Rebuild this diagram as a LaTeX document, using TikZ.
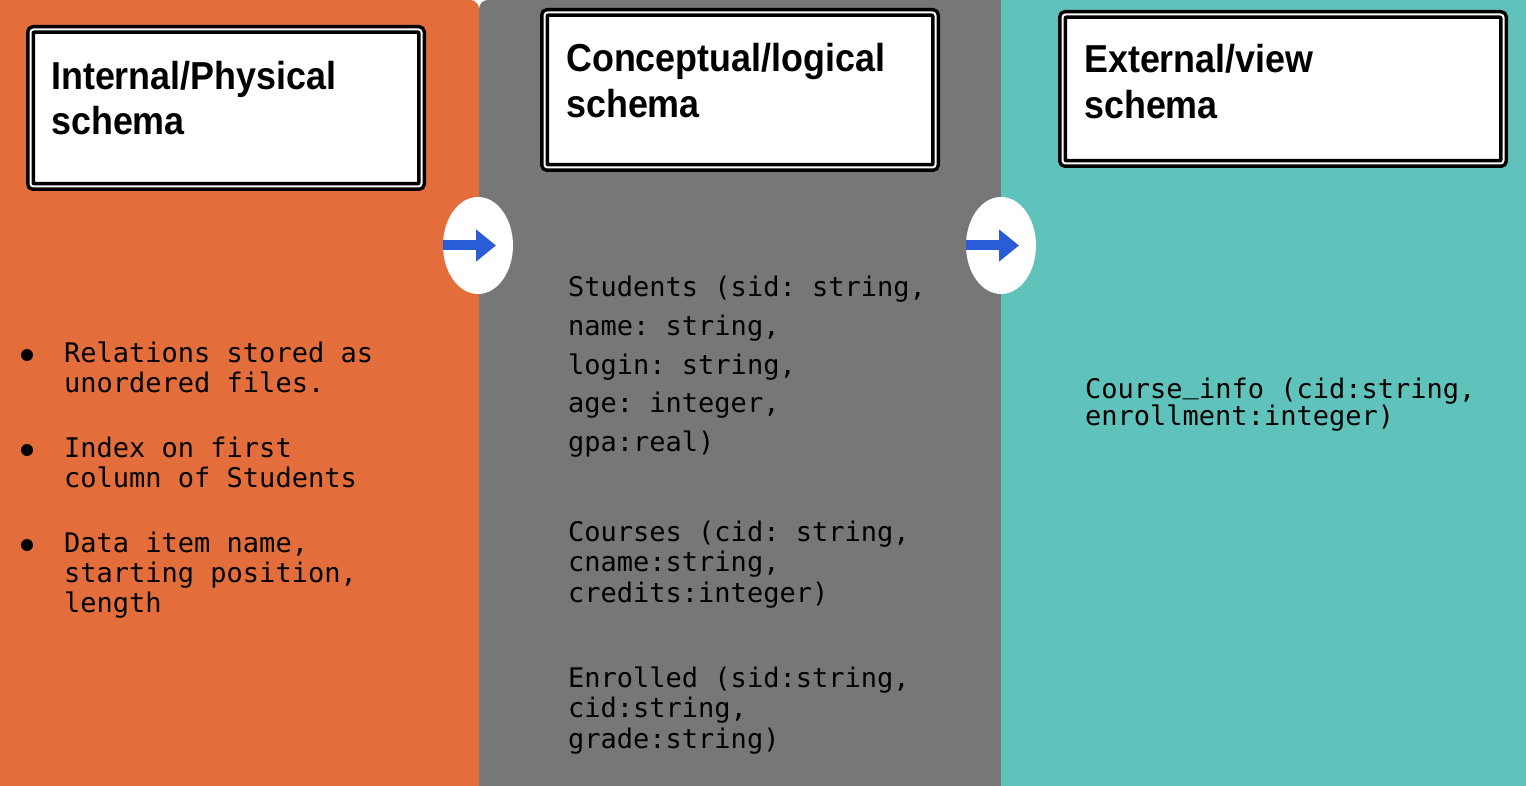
\documentclass[tikz,border=0pt]{standalone}
\usepackage{fontspec}
\usetikzlibrary{shapes.geometric,arrows.meta}
\newfontfamily\titlefont[FakeStretch=0.92]{Liberation Sans}
\newfontfamily\codefont{DejaVu Sans Mono}
\definecolor{orng}{RGB}{227,110,59}
\definecolor{panelgray}{RGB}{119,119,119}
\definecolor{tealpanel}{RGB}{96,195,187}
\definecolor{arrowblue}{RGB}{42,92,216}
\tikzset{
  titlebox/.style={rectangle, draw=black, fill=white, double=white, double distance=2pt,
    line width=3.5pt, rounded corners=3pt, inner sep=0pt},
  titletext/.style={anchor=base west, inner sep=0pt, text=black,
    font=\titlefont\bfseries\fontsize{39}{45}\selectfont},
  codetext/.style={anchor=base west, inner sep=0pt, text=black,
    font=\codefont\fontsize{27}{30}\selectfont\frenchspacing},
  bulletdot/.style={circle, fill=black, minimum size=12pt, inner sep=0pt},
  roundel/.style={ellipse, fill=white, minimum width=70pt, minimum height=97pt, inner sep=0pt},
  bluearrow/.style={draw=arrowblue, line width=10pt,
    -{Triangle[length=20pt,width=31pt]}}
}
\begin{document}
\begin{tikzpicture}[x=1pt,y=-1pt]
\useasboundingbox (0,0) rectangle (1526,786);
\fill[white] (0,0) rectangle (1526,786);
% panels
\fill[orng, rounded corners=9pt] (-30,0) rectangle (479,820);
\fill[panelgray, rounded corners=9pt] (479,0) rectangle (1040,820);
\fill[tealpanel] (1001,0) rectangle (1526,786);

% title boxes
\node[titlebox, minimum width=391pt, minimum height=157pt] (box1) at (226,108) {};
\node[titlebox, minimum width=391pt, minimum height=155pt] (box2) at (740,90) {};
\node[titlebox, minimum width=441pt, minimum height=149pt] (box3) at (1283,89) {};

\node[titletext] (t1a) at (51,90) {Internal/Physical};
\node[titletext] (t1b) at (51,135) {schema};
\node[titletext] (t2a) at (566,72) {Conceptual/logical};
\node[titletext] (t2b) at (566,118) {schema};
\node[titletext] (t3a) at (1084,73) {External/view};
\node[titletext] (t3b) at (1084,119) {schema};

% connectors between panels
\node[roundel] (c1) at (478,245.5) {};
\node[roundel] (c2) at (1001,245.5) {};
\draw[bluearrow] (c1.west) -- ([xshift=18pt]c1.center);
\draw[bluearrow] (c2.west) -- ([xshift=18pt]c2.center);

% internal schema bullets
\node[bulletdot] (b1) at (27,355) {};
\node[bulletdot] (b2) at (27,450) {};
\node[bulletdot] (b3) at (27,545) {};
\node[codetext] (l1) at (64,362) {Relations stored as};
\node[codetext] (l2) at (64,392) {unordered files.};
\node[codetext] (l3) at (64,457) {Index on first};
\node[codetext] (l4) at (64,487) {column of Students};
\node[codetext] (l5) at (64,552) {Data item name,};
\node[codetext] (l6) at (64,582) {starting position,};
\node[codetext] (l7) at (64,612) {length};

% conceptual schema
\node[codetext] (m1) at (568,297) {Students (sid: string,};
\node[codetext] (m2) at (568,335.5) {name: string,};
\node[codetext] (m3) at (568,374) {login: string,};
\node[codetext] (m4) at (568,412.5) {age: integer,};
\node[codetext] (m5) at (568,451) {gpa:real)};
\node[codetext] (m6) at (568,541) {Courses (cid: string,};
\node[codetext] (m7) at (568,571.5) {cname:string,};
\node[codetext] (m8) at (568,602) {credits:integer)};
\node[codetext] (m9) at (568,687) {Enrolled (sid:string,};
\node[codetext] (m10) at (568,717.5) {cid:string,};
\node[codetext] (m11) at (568,748) {grade:string)};

% external schema
\node[codetext] (e1) at (1085,398) {Course\raisebox{5pt}{\char95}info (cid:string,};
\node[codetext] (e2) at (1085,425) {enrollment:integer)};
\end{tikzpicture}
\end{document}
